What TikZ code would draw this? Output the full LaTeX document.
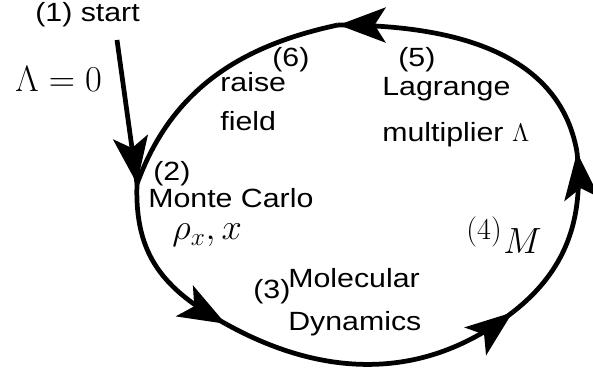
\documentclass[tikz,border=0pt]{standalone}
\usepackage{fontspec}
\setsansfont{Liberation Sans}[FakeStretch=1.15]
\usetikzlibrary{arrows.meta,decorations.markings}
\definecolor{ink}{HTML}{000000}

\tikzset{
  plainarc/.style={ink,line width=2.7pt},
  cyclearc/.style={plainarc,
    decoration={markings,mark=at position 0.998 with
      {\arrow{Stealth[length=0.94cm,width=0.7cm,inset=0.22cm]}}},
    postaction={decorate}},
  lbl/.style={anchor=base west,inner sep=0pt,
    font=\sffamily\fontsize{15}{18}\selectfont},
  mlbl/.style={anchor=base west,inner sep=0pt,
    font=\fontsize{20}{24}\selectfont},
}

\begin{document}
\begin{tikzpicture}[x=0.02cm,y=-0.02cm,text=ink]
  \useasboundingbox (0,0) rectangle (593,374);

  % points on the cycle
  \coordinate (s0)  at (117,40);
  \coordinate (mc)  at (137,184);
  \coordinate (md)  at (226,324);
  \coordinate (mag) at (513,312);
  \coordinate (lag) at (577,152);
  \coordinate (rf)  at (338,25);

  \node[lbl] (start) at (35,22) {(1) start};
  \node[mlbl] (lam0) at (15,92) {$\Lambda=0$};

  \node[lbl] (raise) at (220,92) {raise};
  \node[lbl] (n6) at (272,67) {(6)};
  \node[lbl] (field) at (220,131) {field};

  \node[lbl] (n5) at (398,67) {(5)};
  \node[lbl] (lagr) at (382,96) {Lagrange};
  \node[lbl] (mult) at (382,142) {multiplier $\Lambda$};

  \node[lbl] (n2) at (153,181) {(2)};
  \node[lbl] (monte) at (148,208) {Monte Carlo};
  \node[mlbl] (rho) at (172,240) {$\rho_x,x$};

  \node[lbl] (n3) at (253,299) {(3)};
  \node[lbl] (mol) at (288,288) {Molecular};
  \node[lbl] (dyn) at (288,331) {Dynamics};

  \node[mlbl,font=\fontsize{17}{20}\selectfont] (n4) at (466,240) {$(4)$};
  \node[mlbl] (mag4) at (503,254) {$M$};

  \draw[cyclearc] (s0) -- (mc);
  \draw[cyclearc] (mc) to[out=-92,in=151,looseness=1.1] (md);
  \draw[cyclearc] (md) to[out=-29,in=218] (mag);
  \draw[cyclearc] (mag) to[out=38,in=-84] (lag);
  \draw[cyclearc] (lag) to[out=100,in=0] (rf);
  \draw[plainarc] (rf) to[out=192,in=70] (mc);
\end{tikzpicture}
\end{document}
